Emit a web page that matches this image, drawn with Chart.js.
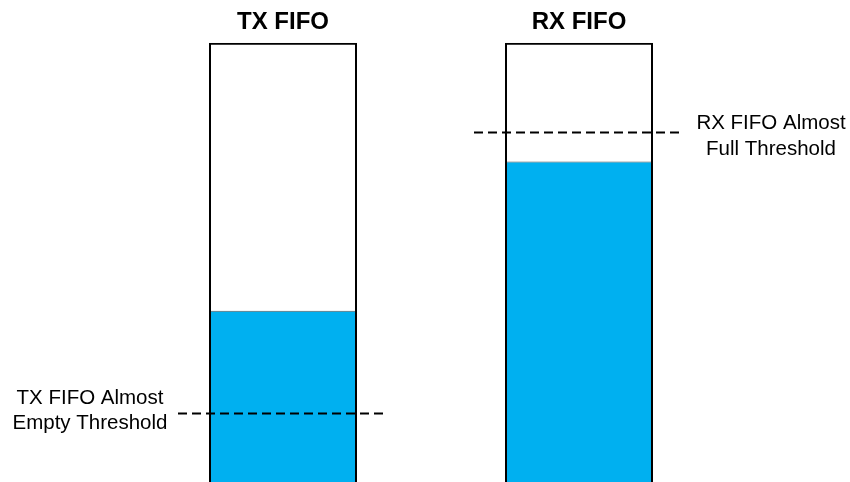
<!DOCTYPE html>
<html>
<head>
<meta charset="utf-8">
<title>FIFO thresholds</title>
<script src="https://cdn.jsdelivr.net/npm/chart.js@4"></script>
<style>
  html, body { margin: 0; padding: 0; background: #fff; overflow: hidden; }
  canvas { display: block; }
</style>
</head>
<body>
<canvas id="fifoChart" width="850" height="482"></canvas>
<script>
// fifo names, fill levels and thresholds (percent of depth)
const fifoNames = ['TX FIFO', 'RX FIFO'];
const fifoDepth = [100, 100];
const fifoLevel = [39, 73];
const thresholdLevel = [15.6, 79.7];
const thresholdText = [
    ['TX FIFO Almost', 'Empty Threshold'],
    ['RX FIFO Almost', 'Full Threshold']
];

const fontFamily = "'Liberation Sans', Arial, sans-serif";

// dashed threshold lines + their captions, placed from the bar elements and y scale
const thresholdPlugin = {
    id: 'thresholds',
    afterDatasetsDraw(chart) {
        const ctx = chart.ctx;
        const y = chart.scales.y;
        const bars = chart.getDatasetMeta(0).data;
        bars.forEach((bar, i) => {
            const py = Math.round(y.getPixelForValue(thresholdLevel[i])) + 0.5;
            const x0 = bar.x - bar.width / 2 - 31;
            const x1 = bar.x + bar.width / 2 + 31;
            ctx.save();
            ctx.strokeStyle = '#000';
            ctx.lineWidth = 2;
            ctx.setLineDash([9, 5]);
            ctx.beginPath();
            ctx.moveTo(x0, py);
            ctx.lineTo(x1, py);
            ctx.stroke();
            ctx.setLineDash([]);

            ctx.fillStyle = '#000';
            ctx.font = '20.5px ' + fontFamily;
            ctx.textAlign = 'center';
            ctx.textBaseline = 'alphabetic';
            const lines = thresholdText[i];
            if (i === 0) {
                // caption to the left, line sits between the two rows
                ctx.fillText(lines[0], x0 - 88, py - 10);
                ctx.fillText(lines[1], x0 - 88, py + 15);
            } else {
                // caption to the right
                ctx.fillText(lines[0], x1 + 87, py - 4);
                ctx.fillText(lines[1], x1 + 87, py + 22);
            }
            ctx.restore();
        });
    }
};

new Chart(document.getElementById('fifoChart').getContext('2d'), {
    type: 'bar',
    data: {
        labels: fifoNames,
        datasets: [{
            label: 'Depth',
            data: fifoDepth,
            backgroundColor: 'rgba(0,0,0,0)',
            borderColor: '#000',
            borderWidth: 2,
            borderSkipped: 'bottom',
            grouped: false,
            order: 0
        }, {
            label: 'Level',
            data: fifoLevel,
            backgroundColor: '#00B0F0',
            borderColor: '#5a5a5a',
            borderWidth: { top: 1, left: 0, right: 0, bottom: 0 },
            grouped: false,
            order: 1
        }]
    },
    options: {
        responsive: false,
        animation: false,
        barPercentage: 0.5,
        categoryPercentage: 1,
        layout: {
            padding: { top: 10, left: 135, right: 123, bottom: 0 }
        },
        plugins: {
            legend: { display: false },
            tooltip: { enabled: false }
        },
        scales: {
            x: {
                position: 'top',
                grid: { display: false },
                border: { display: false },
                ticks: {
                    color: '#000',
                    padding: -2,
                    font: { family: fontFamily, size: 24, weight: 'bold' }
                }
            },
            y: {
                display: false,
                min: 0,
                max: 100
            }
        }
    },
    plugins: [thresholdPlugin]
});
</script>
</body>
</html>
